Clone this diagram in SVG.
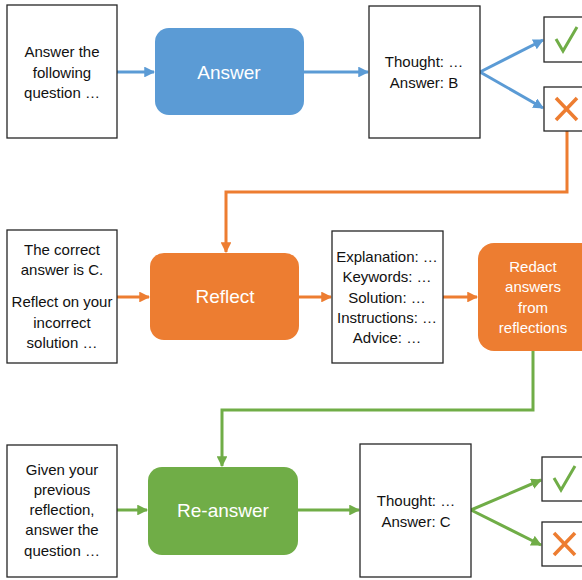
<svg xmlns="http://www.w3.org/2000/svg" width="582" height="580" viewBox="0 0 582 580">
<defs>
<marker id="ab" viewBox="0 0 10 10" refX="9" refY="5" markerWidth="3.6" markerHeight="3.6" orient="auto" markerUnits="strokeWidth"><path d="M0,0 L10,5 L0,10 z" fill="#5B9BD5"/></marker>
<marker id="ao" viewBox="0 0 10 10" refX="9" refY="5" markerWidth="3.6" markerHeight="3.6" orient="auto" markerUnits="strokeWidth"><path d="M0,0 L10,5 L0,10 z" fill="#ED7D31"/></marker>
<marker id="ag" viewBox="0 0 10 10" refX="9" refY="5" markerWidth="3.6" markerHeight="3.6" orient="auto" markerUnits="strokeWidth"><path d="M0,0 L10,5 L0,10 z" fill="#70AD47"/></marker>
</defs>
<style>
.box{fill:#fff;stroke:#262626;stroke-width:1.3}
.t{font-family:"Liberation Sans",Arial,sans-serif;font-size:15px;fill:#111;text-anchor:middle}
.w{font-family:"Liberation Sans",Arial,sans-serif;font-size:19px;fill:#fff;text-anchor:middle}
.ws{font-family:"Liberation Sans",Arial,sans-serif;font-size:15px;fill:#fff;text-anchor:middle}
.lb{fill:none;stroke:#5B9BD5;stroke-width:3;marker-end:url(#ab)}
.lo{fill:none;stroke:#ED7D31;stroke-width:3;marker-end:url(#ao)}
.lg{fill:none;stroke:#70AD47;stroke-width:3;marker-end:url(#ag)}
.chk{fill:none;stroke:#70AD47;stroke-width:3}
.crs{fill:none;stroke:#ED7D31;stroke-width:3.5}
</style>
<g id="connectors">
<path class="lb" d="M117,72 L154,72"/>
<path class="lb" d="M304,72 L368,72"/>
<path class="lb" d="M480,72 L543,40"/>
<path class="lb" d="M480,72 L543,108"/>
<path class="lo" d="M567,131 L567,192 L226,192 L226,252"/>
<path class="lo" d="M117,297 L149,297"/>
<path class="lo" d="M299,297 L331,297"/>
<path class="lo" d="M443,297 L477,297"/>
<path class="lg" d="M533,351 L533,410 L222,410 L222,466"/>
<path class="lg" d="M117,510 L147,510"/>
<path class="lg" d="M298,510 L359,510"/>
<path class="lg" d="M471,510 L541,480"/>
<path class="lg" d="M471,510 L541,545"/>
</g>
<g id="q1">
<rect class="box" x="7" y="5" width="110" height="133"/>
<text class="t" x="62" y="57">Answer the</text>
<text class="t" x="62" y="78">following</text>
<text class="t" x="62" y="98">question …</text>
</g>
<g id="answer">
<rect x="155" y="28" width="149" height="87" rx="14" fill="#5B9BD5"/>
<text class="w" x="229" y="79">Answer</text>
</g>
<g id="out1">
<rect class="box" x="369" y="6" width="111" height="132"/>
<text class="t" x="424" y="67">Thought: …</text>
<text class="t" x="424" y="88">Answer: B</text>
</g>
<g id="check1">
<rect class="box" x="544" y="17" width="46" height="45"/>
<path class="chk" d="M556,39 L563,51 L577,27"/>
</g>
<g id="cross1">
<rect class="box" x="544" y="87" width="46" height="44"/>
<path class="crs" d="M556,98 L577,120 M577,98 L556,120"/>
</g>
<g id="q2">
<rect class="box" x="7" y="230" width="110" height="133"/>
<text class="t" x="62" y="255">The correct</text>
<text class="t" x="62" y="275">answer is C.</text>
<text class="t" x="62" y="307">Reflect on your</text>
<text class="t" x="62" y="328">incorrect</text>
<text class="t" x="62" y="348">solution …</text>
</g>
<g id="reflect">
<rect x="150" y="253" width="149" height="87" rx="14" fill="#ED7D31"/>
<text class="w" x="225" y="303">Reflect</text>
</g>
<g id="reflection">
<rect class="box" x="332" y="231" width="111" height="132"/>
<text class="t" x="387" y="262">Explanation: …</text>
<text class="t" x="387" y="282">Keywords: …</text>
<text class="t" x="387" y="303">Solution: …</text>
<text class="t" x="387" y="323">Instructions: …</text>
<text class="t" x="387" y="343">Advice: …</text>
</g>
<g id="redact">
<rect x="478" y="243" width="120" height="108" rx="16" fill="#ED7D31"/>
<text class="ws" x="533" y="272">Redact</text>
<text class="ws" x="533" y="292">answers</text>
<text class="ws" x="533" y="313">from</text>
<text class="ws" x="533" y="333">reflections</text>
</g>
<g id="q3">
<rect class="box" x="7" y="445" width="110" height="132"/>
<text class="t" x="62" y="475">Given your</text>
<text class="t" x="62" y="495">previous</text>
<text class="t" x="62" y="515">reflection,</text>
<text class="t" x="62" y="535">answer the</text>
<text class="t" x="62" y="556">question …</text>
</g>
<g id="reanswer">
<rect x="148" y="467" width="150" height="88" rx="14" fill="#70AD47"/>
<text class="w" x="223" y="517">Re-answer</text>
</g>
<g id="out2">
<rect class="box" x="360" y="444" width="111" height="133"/>
<text class="t" x="416" y="506">Thought: …</text>
<text class="t" x="416" y="527">Answer: C</text>
</g>
<g id="check2">
<rect class="box" x="542" y="457" width="46" height="44"/>
<path class="chk" d="M554,478 L561,490 L575,466"/>
</g>
<g id="cross2">
<rect class="box" x="542" y="522" width="46" height="44"/>
<path class="crs" d="M554,533 L575,555 M575,533 L554,555"/>
</g>
</svg>
